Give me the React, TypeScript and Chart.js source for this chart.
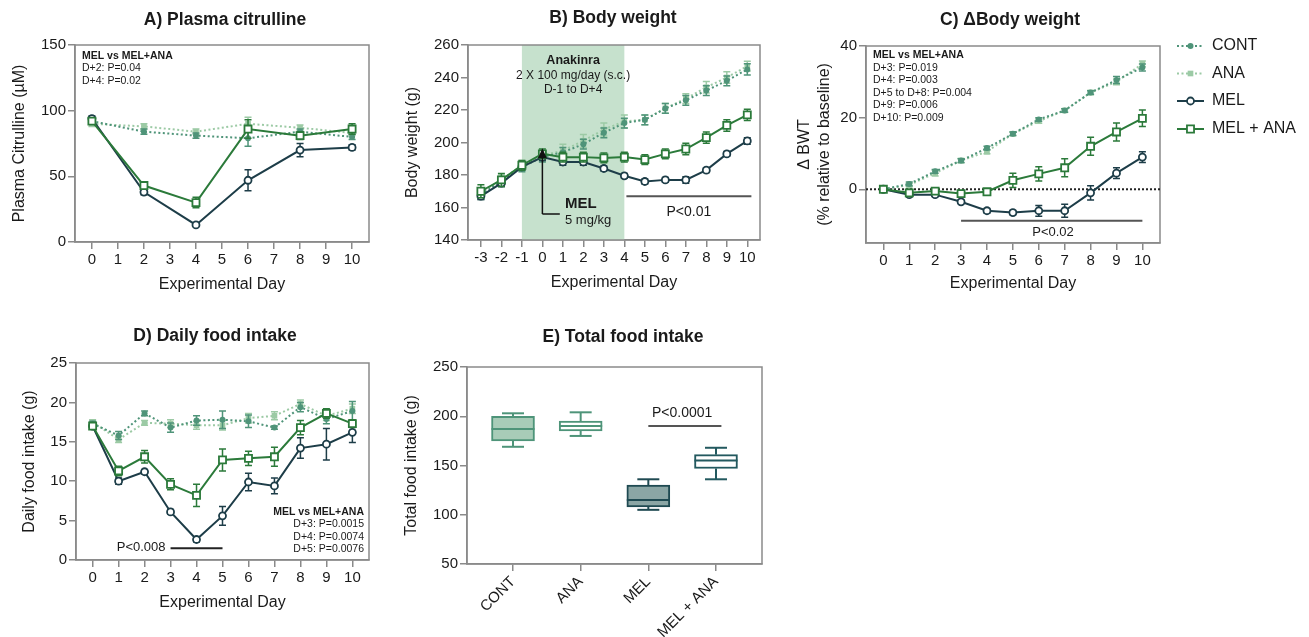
import React, { useEffect, useRef } from 'react';
import { Chart, registerables } from 'chart.js';

Chart.register(...registerables);

const FONT = '"Liberation Sans", Arial, Helvetica, sans-serif';
Chart.defaults.font.family = FONT;
Chart.defaults.color = '#1a1a1a';

// ---------------- colours ----------------
const C_CONT = '#4f9479';
const C_ANA = '#9ccaa5';
const C_MEL = '#1d3d48';
const C_MELANA = '#2b7a3a';
const AXIS = '#8a8a8a';
const TXT = '#1a1a1a';

// ---------------- Panel A: plasma citrulline ----------------
const citDays = [0, 2, 4, 6, 8, 10];
const citCONT = [92, 84, 81, 79, 84, 80];
const citCONTErr = [2, 2, 2, 6, 2, 2];
const citANA = [90, 88, 84, 90, 87, 83];
const citANAErr = [2, 2, 2, 5, 2, 2];
const citMEL = [94, 38, 13, 47, 70, 72];
const citMELErr = [2, 2, 1, 8, 5, 2];
const citMELANA = [92, 43, 30, 86, 81, 86];
const citMELANAErr = [2, 2, 4, 7, 3, 4];
const citTicksY = [0, 50, 100, 150];

// ---------------- Panel B: body weight ----------------
const bwDays = [-3, -2, -1, 0, 1, 2, 3, 4, 5, 6, 7, 8, 9, 10];
const bwCONT = [168, 176, 185, 191, 194, 199, 206, 212, 214, 221, 226, 232, 238, 245];
const bwCONTErr = [3, 3, 3, 3, 3, 3, 3, 3, 3, 3, 3, 3, 3, 3.5];
const bwANA = [169, 177, 186, 192, 195, 201, 208, 213, 214, 221, 227, 234, 240, 247];
const bwANAErr = [3, 3, 3, 3, 4, 4, 4, 4, 3, 3, 3, 3.5, 3.5, 3];
const bwMEL = [167, 175, 185, 191, 188, 188, 184, 179.5, 176, 177, 177, 183, 193, 201];
const bwMELErr = [2, 2, 2, 2, 2, 2, 1.5, 1.5, 1.5, 1.5, 2, 1.5, 1.5, 2];
const bwMELANA = [170, 177, 186, 193, 191, 191, 190.5, 191, 189.5, 193, 196, 203, 210.5, 217];
const bwMELANAErr = [4, 4, 3, 3, 3, 3, 3, 3, 3, 3, 3.5, 3.5, 3.5, 3.5];
const bwTicksX = [-3, -2, -1, 0, 1, 2, 3, 4, 5, 6, 7, 8, 9, 10];
const bwTicksY = [140, 160, 180, 200, 220, 240, 260];

// ---------------- Panel C: delta body weight ----------------
const dDays = [0, 1, 2, 3, 4, 5, 6, 7, 8, 9, 10];
const dCONT = [0, 1.5, 5, 8, 11.5, 15.5, 19.5, 22, 27, 30.5, 34];
const dCONTErr = [0, 0.5, 0.5, 0.5, 0.5, 0.5, 0.5, 0.5, 0.5, 1, 1];
const dANA = [0, 1.2, 4.5, 8, 10.5, 15.5, 19, 22, 27, 30, 35];
const dANAErr = [0, 0.5, 0.8, 0.6, 0.6, 0.5, 0.6, 0.5, 0.6, 0.8, 0.8];
const dMEL = [0, -1.5, -1.5, -3.5, -6, -6.5, -6, -6, -1, 4.5, 9];
const dMELErr = [0, 0.5, 0.5, 0.5, 0.6, 0.6, 1.5, 1.8, 2, 1.5, 1.5];
const dMELANA = [0, -1, -0.5, -1.2, -0.7, 2.5, 4.3, 6, 12, 16, 19.8];
const dMELANAErr = [0, 1, 0.6, 0.6, 0.8, 2, 2, 2.5, 2.5, 2.5, 2.3];
const dTicksY = [0, 20, 40];

// ---------------- Panel D: daily food intake ----------------
const fDays = [0, 1, 2, 3, 4, 5, 6, 7, 8, 9, 10];
const fCONT = [17.3, 15.8, 18.6, 16.8, 17.7, 17.8, 17.6, 16.8, 19.4, 17.9, 18.9];
const fCONTErr = [0.3, 0.5, 0.3, 0.6, 0.6, 1.1, 0.8, 0.2, 0.6, 0.6, 1.2];
const fANA = [17.5, 15.3, 17.4, 17.3, 17.1, 17.1, 18.0, 18.3, 19.8, 18.3, 19.2];
const fANAErr = [0.3, 0.4, 0.3, 0.5, 0.5, 0.6, 0.6, 0.5, 0.5, 0.6, 0.6];
const fMEL = [17, 10, 11.2, 6.1, 2.6, 5.6, 9.9, 9.4, 14.2, 14.7, 16.2];
const fMELErr = [0.3, 0.4, 0.3, 0.3, 0.3, 1.2, 1.1, 1, 1.3, 2, 1.3];
const fMELANA = [17, 11.3, 13.1, 9.6, 8.2, 12.7, 12.9, 13.1, 16.8, 18.6, 17.3];
const fMELANAErr = [0.3, 0.6, 0.8, 0.7, 1.4, 1.4, 0.9, 1.2, 0.9, 0.6, 0.5];
const fTicksY = [0, 5, 10, 15, 20, 25];

const dayTicks = [0, 1, 2, 3, 4, 5, 6, 7, 8, 9, 10];

// ---------------- Panel E: total food intake ----------------
const boxCats = ['CONT', 'ANA', 'MEL', 'MEL + ANA'];
const boxMin = [169, 180, 105, 136];
const boxQ1 = [175, 185, 108, 147];
const boxMed = [187, 190, 115, 155];
const boxQ3 = [200, 195, 130, 161];
const boxMax = [203, 204, 136, 168];
const boxTicksY = [50, 100, 150, 200, 250];
const BOX_FILL = ['#a8ccb8', '#ffffff', '#8ba6a5', '#ffffff'];
const BOX_LINE = ['#4e9479', '#4e9479', '#1f4a52', '#23595f'];

// ---------------- styles ----------------
const STYLE: Record<string, any> = {
  CONT: { color: C_CONT, fill: C_CONT, point: 'circle', r: 3, bw: 0, dash: [2, 2.5] },
  ANA: { color: C_ANA, fill: C_ANA, point: 'rect', r: 4, bw: 0, dash: [2, 2.5] },
  MEL: { color: C_MEL, fill: '#ffffff', point: 'circle', r: 3.5, bw: 1.8, dash: [] },
  MELANA: { color: C_MELANA, fill: '#ffffff', point: 'rect', r: 5, bw: 1.8, dash: [] },
};

function series(label: string, xs: number[], ys: number[], errs: number[], kind: string) {
  const st = STYLE[kind];
  return {
    label,
    data: xs.map((x, i) => ({ x, y: ys[i] })),
    errors: errs,
    borderColor: st.color,
    backgroundColor: st.fill,
    pointBackgroundColor: st.fill,
    pointBorderColor: st.color,
    pointStyle: st.point,
    pointRadius: st.r,
    pointBorderWidth: st.bw,
    borderWidth: 2,
    borderDash: st.dash,
    tension: 0,
    fill: false,
  };
}

type Fit = { padding: any; yWidth: number; xHeight: number; ox: number; oy: number };

function xAxis(f: Fit, min: number, max: number, ticks: number[], title: string | null, titlePad: number, fmt?: (v: number) => string, rot = 0) {
  return {
    type: 'linear',
    position: 'bottom',
    min,
    max,
    offset: false,
    afterBuildTicks: (s: any) => { s.ticks = ticks.map((v) => ({ value: v })); },
    afterFit: (s: any) => { s.height = f.xHeight; },
    grid: { display: true, offset: false, drawOnChartArea: false, drawTicks: true, tickLength: 7, color: AXIS, lineWidth: 1.5 },
    border: { display: true, color: AXIS, width: 1.5 },
    ticks: {
      font: { size: 15 }, color: TXT, padding: 2, autoSkip: false,
      maxRotation: rot, minRotation: rot,
      callback: fmt || ((v: number) => String(v)),
    },
    title: title
      ? { display: true, text: title, font: { size: 16 }, color: TXT, padding: { top: 0, bottom: titlePad } }
      : { display: false },
  };
}

function yAxis(f: Fit, min: number, max: number, ticks: number[], title: any, titlePad: number) {
  return {
    type: 'linear',
    position: 'left',
    min,
    max,
    afterBuildTicks: (s: any) => { s.ticks = ticks.map((v) => ({ value: v })); },
    afterFit: (s: any) => { s.width = f.yWidth; },
    grid: { display: true, drawOnChartArea: false, drawTicks: true, tickLength: 7, color: AXIS, lineWidth: 1.5 },
    border: { display: true, color: AXIS, width: 1.5 },
    ticks: { font: { size: 15 }, color: TXT, padding: 2, autoSkip: false, callback: (v: number) => String(v) },
    title: { display: true, text: title, font: { size: 16 }, color: TXT, padding: { top: titlePad, bottom: 0 } },
  };
}

function base(f: Fit, scales: any) {
  return {
    responsive: false,
    maintainAspectRatio: false,
    animation: false,
    events: [],
    layout: { padding: f.padding, autoPadding: false },
    plugins: { legend: { display: false }, tooltip: { enabled: false }, title: { display: false } },
    scales,
  };
}

function text(ctx: CanvasRenderingContext2D, s: string, x: number, y: number, size: number, bold = false, align: CanvasTextAlign = 'left', color = TXT) {
  ctx.save();
  ctx.font = `${bold ? 'bold ' : ''}${size}px ${FONT}`;
  ctx.fillStyle = color;
  ctx.textAlign = align;
  ctx.textBaseline = 'middle';
  ctx.fillText(s, x, y);
  ctx.restore();
}

function line(ctx: CanvasRenderingContext2D, x1: number, y1: number, x2: number, y2: number, color: string, w: number, dash: number[] = []) {
  ctx.save();
  ctx.strokeStyle = color;
  ctx.lineWidth = w;
  ctx.setLineDash(dash);
  ctx.beginPath();
  ctx.moveTo(x1, y1);
  ctx.lineTo(x2, y2);
  ctx.stroke();
  ctx.restore();
}

const errorBars = {
  id: 'errorBars',
  beforeDatasetDraw(chart: any, args: any) {
    const ds = chart.data.datasets[args.index];
    if (!ds.errors) return;
    const { ctx } = chart;
    const x = chart.scales.x;
    const y = chart.scales.y;
    ctx.save();
    ctx.strokeStyle = ds.borderColor;
    ctx.lineWidth = 1.5;
    ds.data.forEach((p: any, i: number) => {
      const e = ds.errors[i];
      if (!e) return;
      const px = x.getPixelForValue(p.x);
      const y1 = y.getPixelForValue(p.y + e);
      const y2 = y.getPixelForValue(p.y - e);
      ctx.beginPath();
      ctx.moveTo(px, y1); ctx.lineTo(px, y2);
      ctx.moveTo(px - 3.5, y1); ctx.lineTo(px + 3.5, y1);
      ctx.moveTo(px - 3.5, y2); ctx.lineTo(px + 3.5, y2);
      ctx.stroke();
    });
    ctx.restore();
  },
};

const framePlugin = {
  id: 'frame',
  beforeDatasetsDraw(chart: any) {
    const a = chart.chartArea;
    const ctx = chart.ctx;
    ctx.save();
    ctx.strokeStyle = AXIS;
    ctx.lineWidth = 1.5;
    ctx.strokeRect(a.left, a.top, a.right - a.left, a.bottom - a.top);
    ctx.restore();
  },
};

function fourSeries(xs: number[], c: number[], ce: number[], a: number[], ae: number[], m: number[], me: number[], ma: number[], mae: number[]) {
  return [
    series('MEL + ANA', xs, ma, mae, 'MELANA'),
    series('MEL', xs, m, me, 'MEL'),
    series('CONT', xs, c, ce, 'CONT'),
    series('ANA', xs, a, ae, 'ANA'),
  ];
}

function drawLegend(ctx: CanvasRenderingContext2D, ox: number, oy: number) {
  const rows = [
    { label: 'CONT', kind: 'CONT', y: 46 },
    { label: 'ANA', kind: 'ANA', y: 73.5 },
    { label: 'MEL', kind: 'MEL', y: 101 },
    { label: 'MEL + ANA', kind: 'MELANA', y: 129 },
  ];
  rows.forEach((r) => {
    const st = STYLE[r.kind];
    const y = r.y - oy;
    const x1 = 1177 - ox;
    const x2 = 1204 - ox;
    const xm = (x1 + x2) / 2;
    line(ctx, x1, y, x2, y, st.color, 2, st.dash);
    ctx.save();
    ctx.fillStyle = st.fill;
    ctx.strokeStyle = st.color;
    ctx.lineWidth = st.bw || 1;
    ctx.beginPath();
    if (st.point === 'circle') ctx.arc(xm, y, st.r, 0, Math.PI * 2);
    else {
      const h = st.r * Math.SQRT1_2;
      ctx.rect(xm - h, y - h, 2 * h, 2 * h);
    }
    ctx.fill();
    if (st.bw) ctx.stroke();
    ctx.restore();
    text(ctx, r.label, 1212 - ox, y, 16);
  });
}

type PanelDef = { box: number[]; plot: number[]; make: (f: Fit) => any };

const panelA: PanelDef = {
  box: [0, 0, 390, 310],
  plot: [75, 45, 369, 242],
  make: (f) => ({
    type: 'line',
    data: { datasets: fourSeries(citDays, citCONT, citCONTErr, citANA, citANAErr, citMEL, citMELErr, citMELANA, citMELANAErr) },
    options: base(f, {
      x: xAxis(f, -0.65, 10.65, dayTicks, 'Experimental Day', 15.4),
      y: yAxis(f, 0, 150, citTicksY, 'Plasma Citrulline (µM)', 10.4),
    }),
    plugins: [framePlugin, errorBars, {
      id: 'annA',
      afterDraw(c: any) {
        const ctx = c.ctx;
        text(ctx, 'A) Plasma citrulline', 225 - f.ox, 20 - f.oy, 17.5, true, 'center');
        text(ctx, 'MEL vs MEL+ANA', 82 - f.ox, 56 - f.oy, 10.5, true);
        text(ctx, 'D+2: P=0.04', 82 - f.ox, 68.5 - f.oy, 10.5);
        text(ctx, 'D+4: P=0.02', 82 - f.ox, 81 - f.oy, 10.5);
      },
    }],
  }),
};

const panelB: PanelDef = {
  box: [390, 0, 400, 310],
  plot: [468, 45, 760, 240],
  make: (f) => ({
    type: 'line',
    data: { datasets: fourSeries(bwDays, bwCONT, bwCONTErr, bwANA, bwANAErr, bwMEL, bwMELErr, bwMELANA, bwMELANAErr) },
    options: base(f, {
      x: xAxis(f, -3.63, 10.62, bwTicksX, 'Experimental Day', 17.7),
      y: yAxis(f, 140, 260, bwTicksY, 'Body weight (g)', 13.4),
    }),
    plugins: [{
      id: 'shadeB',
      beforeDatasetsDraw(c: any) {
        const { ctx, chartArea: a } = c;
        const x = c.scales.x;
        const x1 = x.getPixelForValue(-1);
        const x2 = x.getPixelForValue(4);
        ctx.save();
        ctx.fillStyle = '#c6e1cd';
        ctx.fillRect(x1, a.top, x2 - x1, a.bottom - a.top);
        ctx.restore();
      },
    }, framePlugin, errorBars, {
      id: 'annB',
      afterDraw(c: any) {
        const ctx = c.ctx;
        const x = c.scales.x;
        const y = c.scales.y;
        text(ctx, 'B) Body weight', 613 - f.ox, 18 - f.oy, 17.5, true, 'center');
        const cx = (x.getPixelForValue(-1) + x.getPixelForValue(4)) / 2;
        text(ctx, 'Anakinra', cx, 61 - f.oy, 12.5, true, 'center');
        text(ctx, '2 X 100 mg/day (s.c.)', cx, 76 - f.oy, 12, false, 'center');
        text(ctx, 'D-1 to D+4', cx, 89.5 - f.oy, 12, false, 'center');
        // MEL injection arrow
        const ax = x.getPixelForValue(0);
        const yb = y.getPixelForValue(156);
        const yt = y.getPixelForValue(196.5);
        line(ctx, ax, yb, ax, yt + 8, '#111', 1.5);
        line(ctx, ax, yb, x.getPixelForValue(0.85), yb, '#111', 1.5);
        ctx.save();
        ctx.fillStyle = '#111';
        ctx.beginPath();
        ctx.moveTo(ax, yt);
        ctx.lineTo(ax - 4.5, yt + 10);
        ctx.lineTo(ax + 4.5, yt + 10);
        ctx.closePath();
        ctx.fill();
        ctx.restore();
        text(ctx, 'MEL', 565 - f.ox, 204 - f.oy, 15, true);
        text(ctx, '5 mg/kg', 565 - f.ox, 220.5 - f.oy, 13);
        // significance bar
        const py = y.getPixelForValue(167);
        line(ctx, x.getPixelForValue(4.1), py, x.getPixelForValue(10.2), py, '#555', 2);
        text(ctx, 'P<0.01', x.getPixelForValue(7.15), py + 16, 14, false, 'center');
      },
    }],
  }),
};

const panelC: PanelDef = {
  box: [790, 0, 519, 310],
  plot: [866, 46, 1160, 243],
  make: (f) => ({
    type: 'line',
    data: { datasets: fourSeries(dDays, dCONT, dCONTErr, dANA, dANAErr, dMEL, dMELErr, dMELANA, dMELANAErr) },
    options: base(f, {
      x: xAxis(f, -0.67, 10.68, dayTicks, 'Experimental Day', 16.4),
      y: yAxis(f, -15, 40, dTicksY, ['Δ BWT', '(% relative to baseline)'], 5.4),
    }),
    plugins: [framePlugin, {
      id: 'zeroC',
      beforeDatasetsDraw(c: any) {
        const { ctx, chartArea: a } = c;
        const py = c.scales.y.getPixelForValue(0);
        line(ctx, a.left, py, a.right, py, '#222', 2, [2, 2]);
      },
    }, errorBars, {
      id: 'annC',
      afterDraw(c: any) {
        const ctx = c.ctx;
        const x = c.scales.x;
        const y = c.scales.y;
        text(ctx, 'C) ΔBody weight', 1010 - f.ox, 20 - f.oy, 17.5, true, 'center');
        const lx = 873 - f.ox;
        text(ctx, 'MEL vs MEL+ANA', lx, 55 - f.oy, 10.5, true);
        text(ctx, 'D+3: P=0.019', lx, 67.7 - f.oy, 10.5);
        text(ctx, 'D+4: P=0.003', lx, 80.2 - f.oy, 10.5);
        text(ctx, 'D+5 to D+8: P=0.004', lx, 92.8 - f.oy, 10.5);
        text(ctx, 'D+9: P=0.006', lx, 105.3 - f.oy, 10.5);
        text(ctx, 'D+10: P=0.009', lx, 118 - f.oy, 10.5);
        const py = y.getPixelForValue(-8.8);
        line(ctx, x.getPixelForValue(3), py, x.getPixelForValue(10), py, '#555', 2);
        text(ctx, 'P<0.02', x.getPixelForValue(6.55), py + 11.5, 13, false, 'center');
        drawLegend(ctx, f.ox, f.oy);
      },
    }],
  }),
};

const panelD: PanelDef = {
  box: [0, 310, 390, 327],
  plot: [76, 363, 369, 560],
  make: (f) => ({
    type: 'line',
    data: { datasets: fourSeries(fDays, fCONT, fCONTErr, fANA, fANAErr, fMEL, fMELErr, fMELANA, fMELANAErr) },
    options: base(f, {
      x: xAxis(f, -0.64, 10.64, dayTicks, 'Experimental Day', 24.7),
      y: yAxis(f, 0, 25, fTicksY, 'Daily food intake (g)', 20.4),
    }),
    plugins: [framePlugin, errorBars, {
      id: 'annD',
      afterDraw(c: any) {
        const ctx = c.ctx;
        const x = c.scales.x;
        const y = c.scales.y;
        text(ctx, 'D) Daily food intake', 215 - f.ox, 336 - f.oy, 17.5, true, 'center');
        const rx = 364 - f.ox;
        text(ctx, 'MEL vs MEL+ANA', rx, 512 - f.oy, 10.5, true, 'right');
        text(ctx, 'D+3: P=0.0015', rx, 524.5 - f.oy, 10.5, false, 'right');
        text(ctx, 'D+4: P=0.0074', rx, 537 - f.oy, 10.5, false, 'right');
        text(ctx, 'D+5: P=0.0076', rx, 549.5 - f.oy, 10.5, false, 'right');
        const py = y.getPixelForValue(1.5);
        const x3 = x.getPixelForValue(3);
        line(ctx, x3, py, x.getPixelForValue(5), py, '#222', 2);
        text(ctx, 'P<0.008', x3 - 5, py - 1, 13, false, 'right');
      },
    }],
  }),
};

const panelE: PanelDef = {
  box: [390, 310, 400, 327],
  plot: [467, 367, 762, 564],
  make: (f) => ({
    type: 'bar',
    data: {
      datasets: [{
        data: boxCats.map((_, i) => ({ x: i, y: [boxQ1[i], boxQ3[i]] })),
        backgroundColor: BOX_FILL,
        borderColor: BOX_LINE,
        borderWidth: 2,
        borderSkipped: false,
        barThickness: 43,
      }],
    },
    options: base(f, {
      x: xAxis(f, -0.68, 3.68, [0, 1, 2, 3], null, 0, (v: number) => boxCats[v], 45),
      y: yAxis(f, 50, 250, boxTicksY, 'Total food intake (g)', 12.4),
    }),
    plugins: [framePlugin, {
      id: 'boxE',
      afterDatasetsDraw(c: any) {
        const ctx = c.ctx;
        const x = c.scales.x;
        const y = c.scales.y;
        boxCats.forEach((_, i) => {
          const px = x.getPixelForValue(i);
          const col = BOX_LINE[i];
          const yMax = y.getPixelForValue(boxMax[i]);
          const yMin = y.getPixelForValue(boxMin[i]);
          line(ctx, px, y.getPixelForValue(boxQ3[i]), px, yMax, col, 2);
          line(ctx, px, y.getPixelForValue(boxQ1[i]), px, yMin, col, 2);
          line(ctx, px - 11, yMax, px + 11, yMax, col, 2);
          line(ctx, px - 11, yMin, px + 11, yMin, col, 2);
          const ym = y.getPixelForValue(boxMed[i]);
          line(ctx, px - 21.5, ym, px + 21.5, ym, col, 2);
        });
      },
      afterDraw(c: any) {
        const ctx = c.ctx;
        const x = c.scales.x;
        const y = c.scales.y;
        text(ctx, 'E) Total food intake', 623 - f.ox, 337 - f.oy, 17.5, true, 'center');
        const py = y.getPixelForValue(190);
        line(ctx, x.getPixelForValue(2), py, x.getPixelForValue(3.08), py, '#555', 2);
        text(ctx, 'P<0.0001', x.getPixelForValue(2.5), py - 13, 14, false, 'center');
      },
    }],
  }),
};

function Panel({ def }: { def: PanelDef }) {
  const ref = useRef<HTMLCanvasElement>(null);
  const [cx, cy, cw, ch] = def.box;
  useEffect(() => {
    const [L, T, R, B] = def.plot;
    const f: Fit = {
      padding: { left: 0, top: T - cy, right: cx + cw - R, bottom: 0 },
      yWidth: L - cx,
      xHeight: cy + ch - B,
      ox: cx,
      oy: cy,
    };
    const chart = new Chart(ref.current as HTMLCanvasElement, def.make(f));
    return () => chart.destroy();
  }, []);
  return (
    <canvas
      ref={ref}
      width={cw}
      height={ch}
      style={{ position: 'absolute', left: cx, top: cy, width: cw, height: ch }}
    />
  );
}

export default function App() {
  return (
    <div style={{ position: 'fixed', left: 0, top: 0, width: 1309, height: 637, background: '#ffffff', overflow: 'hidden' }}>
      <Panel def={panelA} />
      <Panel def={panelB} />
      <Panel def={panelC} />
      <Panel def={panelD} />
      <Panel def={panelE} />
    </div>
  );
}
